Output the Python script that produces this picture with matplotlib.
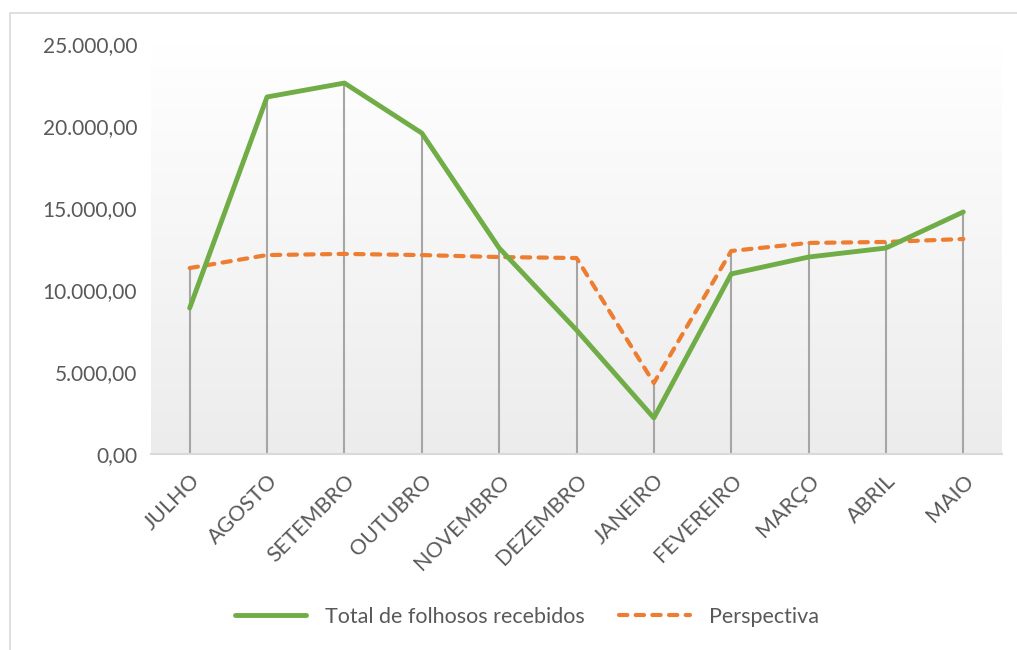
import numpy as np
import matplotlib
matplotlib.use("Agg")
import matplotlib.pyplot as plt
from matplotlib.ticker import FuncFormatter
from matplotlib.lines import Line2D

months = ["JULHO", "AGOSTO", "SETEMBRO", "OUTUBRO", "NOVEMBRO", "DEZEMBRO",
          "JANEIRO", "FEVEREIRO", "MARÇO", "ABRIL", "MAIO"]
total = [8900, 21770, 22620, 19570, 12560, 7560, 2200, 10980, 12010, 12560, 14760]
perspectiva = [11340, 12130, 12200, 12130, 12010, 11950, 4330, 12380, 12870, 12930, 13110]

plt.rcParams['font.family'] = ['Lato', 'DejaVu Sans']
text_color = '#595959'


def br_format(v, pos):
    s = f"{v:,.2f}"
    return s.replace(",", "X").replace(".", ",").replace("X", ".")


fig = plt.figure(figsize=(10.17, 6.5), dpi=100)
ax = fig.add_axes([151 / 1017, 1 - 454 / 650, (1002 - 151) / 1017, (454 - 44) / 650])

x = np.arange(len(months))

# gradient background of the plot area (white at top, light gray at bottom)
grad = np.linspace(0.0, 1.0, 256).reshape(-1, 1)
cmap = matplotlib.colors.LinearSegmentedColormap.from_list("bg", ["#ffffff", "#ececec"])
ax.imshow(grad, extent=(-0.5, len(months) - 0.5, 0, 25000), aspect='auto',
          cmap=cmap, origin='upper', zorder=0, vmin=0, vmax=1)

# drop lines
tops = np.maximum(total, perspectiva)
ax.vlines(x, 0, tops, color='#a6a6a6', lw=1.5, zorder=1)

ax.plot(x, total, color='#70ad47', lw=3.5, zorder=3, solid_capstyle='round',
        label='Total de folhosos recebidos')
ax.plot(x, perspectiva, color='#ed7d31', lw=3, zorder=2, linestyle=(0, (2.0, 2.0)),
        dash_capstyle='round', label='Perspectiva')

ax.set_xlim(-0.5, len(months) - 0.5)
ax.set_ylim(0, 25000)
ax.set_yticks(np.arange(0, 25001, 5000))
ax.yaxis.set_major_formatter(FuncFormatter(br_format))
ax.set_xticks(x)
ax.set_xticklabels(months, rotation=45, ha='right', rotation_mode='anchor')
ax.tick_params(axis='both', length=0, colors=text_color)
ax.tick_params(axis='y', labelsize=15, pad=10)
ax.tick_params(axis='x', labelsize=15.5, pad=12)

for side in ['top', 'right', 'left']:
    ax.spines[side].set_visible(False)
ax.spines['bottom'].set_color('#d9d9d9')
ax.spines['bottom'].set_linewidth(1.5)
ax.spines['bottom'].set_zorder(4)

leg = fig.legend(loc='center', bbox_to_anchor=(527 / 1017, 1 - 617 / 650), ncol=2,
                 frameon=False, fontsize=15.5, handlelength=3.3, columnspacing=1.6,
                 handletextpad=0.86)
for t in leg.get_texts():
    t.set_color(text_color)

# outer chart border (left and top visible)
fig.add_artist(Line2D([10 / 1017, 10 / 1017, 1.0], [0.0, 1 - 13 / 650, 1 - 13 / 650],
                      transform=fig.transFigure, color='#d9d9d9', lw=1.2))

fig.savefig("out.png", dpi=100)
